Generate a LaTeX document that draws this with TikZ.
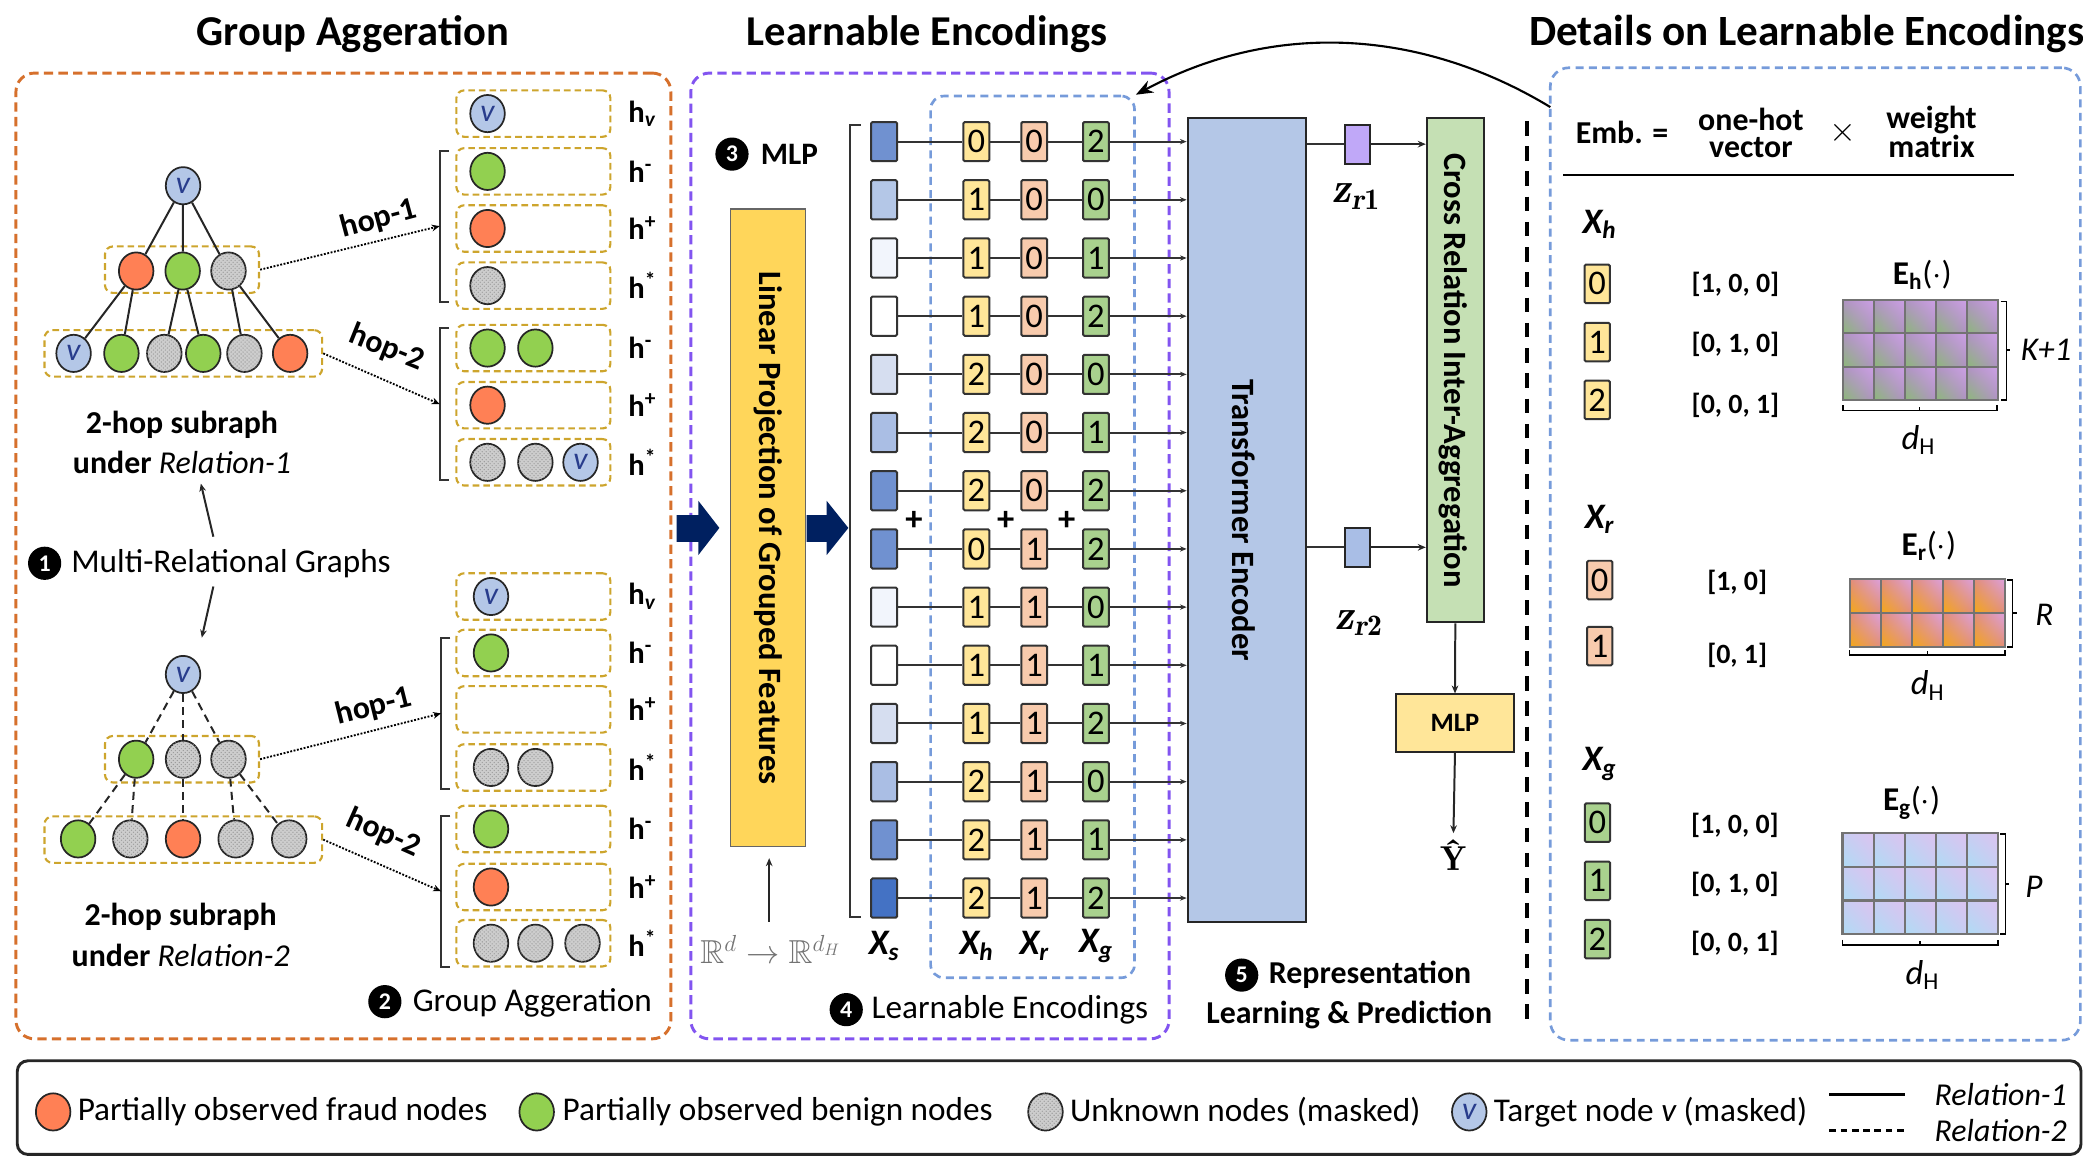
\RequirePackage{fix-cm}
\documentclass[tikz,border=0pt]{standalone}
\usepackage{fontspec}
\setmainfont{Carlito}
\usepackage{amssymb}
\usetikzlibrary{shapes.geometric,arrows.meta,patterns,shadings}
\newcommand\myfs[1]{\fontsize{#1}{#1}\selectfont}
\newcommand\myhv{h\textsubscript{\itshape v}}
\newcommand\myhn{h\textsuperscript{-}}
\newcommand\myhp{h\textsuperscript{+}}
\newcommand\myha{h\textsuperscript{*}}
\newcommand\mylm{\fontfamily{lmr}\selectfont}
\definecolor{orgbox}{RGB}{214,112,44}
\definecolor{purbox}{RGB}{130,84,240}
\definecolor{blubox}{RGB}{118,155,218}
\definecolor{goldc}{RGB}{205,165,45}
\definecolor{frc}{RGB}{255,128,85}
\definecolor{bnc}{RGB}{146,208,80}
\definecolor{ukc}{RGB}{205,205,205}
\definecolor{tvc}{RGB}{180,199,231}
\definecolor{vtext}{RGB}{40,60,140}
\definecolor{navy}{RGB}{0,32,96}
\definecolor{projc}{RGB}{255,214,90}
\definecolor{hc}{RGB}{255,230,153}
\definecolor{rc}{RGB}{248,203,173}
\definecolor{gc}{RGB}{169,209,142}
\definecolor{tfc}{RGB}{180,199,231}
\definecolor{crc}{RGB}{197,224,180}
\definecolor{zac}{RGB}{192,168,248}
\definecolor{zbc}{RGB}{169,190,230}
\definecolor{xsa}{RGB}{112,145,208}
\definecolor{xsb}{RGB}{180,199,231}
\definecolor{xsc}{RGB}{242,245,252}
\definecolor{xsd}{RGB}{255,255,255}
\definecolor{xse}{RGB}{214,222,240}
\definecolor{xsf}{RGB}{170,190,228}
\definecolor{xsg}{RGB}{68,114,196}
\definecolor{mhA}{RGB}{140,185,120}
\definecolor{mhB}{RGB}{205,160,230}
\definecolor{mhC}{RGB}{175,145,195}
\definecolor{mrA}{RGB}{245,170,20}
\definecolor{mrB}{RGB}{220,160,220}
\definecolor{mrC}{RGB}{225,140,120}
\definecolor{mgA}{RGB}{175,220,245}
\definecolor{mgB}{RGB}{220,195,240}
\definecolor{mgC}{RGB}{200,205,242}
\begin{document}
\begin{tikzpicture}[x=1pt,y=-1pt,
 gn/.style={ellipse, draw=black!85, line width=1.3pt, minimum width=26pt, minimum height=28pt, inner sep=0pt, font=\itshape\myfs{24}, text=vtext},
 frn/.style={gn, fill=frc},
 bnn/.style={gn, fill=bnc},
 ukn/.style={gn, fill=ukc, postaction={pattern=crosshatch dots, pattern color=black!40}},
 tvn/.style={gn, fill=tvc},
 gbox/.style={draw=goldc, line width=1.6pt, dash pattern=on 5pt off 3pt, rounded corners=6pt, minimum height=35pt, inner sep=0pt},
 edgeA/.style={line width=1.5pt, draw=black!85},
 edgeB/.style={edgeA, dash pattern=on 6pt off 4pt},
 dotarr/.style={line width=1.4pt, dash pattern=on 1.4pt off 1.2pt, -{Stealth[length=6pt,width=5pt]}},
 brk/.style={line width=1.6pt, draw=black!80},
 hl/.style={anchor=west, font=\bfseries\myfs{23}, inner sep=0pt},
 hopl/.style={font=\bfseries\myfs{24}, inner sep=0.5pt},
 numc/.style={circle, fill=black, text=white, font=\bfseries\myfs{18}, inner sep=0pt, minimum size=25pt},
 cell/.style={draw=black!80, line width=1.5pt, minimum width=19.5pt, minimum height=29.5pt, inner sep=0pt, font=\myfs{26}, rounded corners=1pt},
 ehc/.style={cell, fill=hc},
 erc/.style={cell, fill=rc},
 egc/.style={cell, fill=gc},
 arr/.style={-{Stealth[length=6pt,width=5pt]}, line width=1.5pt, draw=black!85},
 rowl/.style={line width=1.5pt, draw=black!80},
 xl/.style={font=\bfseries\itshape\myfs{27}},
 panel/.style={line width=2.2pt, dash pattern=on 7pt off 4pt, rounded corners=14pt, inner sep=0pt},
 vec/.style={font=\bfseries\myfs{21}},
 mcell/.style={draw=black!55, line width=1.6pt},
 legt/.style={anchor=west, font=\myfs{25}},
 bigbox/.style={draw=black!85, line width=1.5pt, inner sep=0pt}
]
\useasboundingbox (0,0) rectangle (1568,871);

% ---------- titles
\node[anchor=base, font=\bfseries\myfs{32}] (t1) at (265.5,34.5) {Group Aggeration};
\node[anchor=base, font=\bfseries\myfs{32}] (t2) at (698,34.5) {Learnable Encodings};
\node[anchor=base west, inner sep=0pt, font=\bfseries\myfs{32.5}] (t3) at (1151,34.5) {Details on Learnable Encodings};

% ---------- panels
\node[panel, draw=orgbox, minimum width=493pt, minimum height=727pt] (OR) at (258.5,418.5) {};
\node[panel, draw=purbox, minimum width=360pt, minimum height=727pt] (PU) at (700,418.5) {};
\node[panel, draw=blubox, line width=2pt, dash pattern=on 6pt off 4pt, rounded corners=10pt, minimum width=153.5pt, minimum height=663.7pt] (LE) at (777.25,404.15) {};
\node[panel, draw=blubox, line width=2pt, dash pattern=on 6pt off 4pt, rounded corners=14pt, minimum width=399pt, minimum height=732pt] (RB) at (1366.5,417) {};

% ---------- upper graph (Relation-1)
\node[gbox, minimum width=116pt] (ga1) at (137,203) {};
\node[gbox, minimum width=209pt] (ga2) at (138,266) {};
\node[tvn] (ra) at (137.8,139.8) {v};
\node[frn] (a1) at (102.5,204) {};
\node[bnn] (a2) at (137.5,204) {};
\node[ukn] (a3) at (172,204) {};
\node[tvn] (b1) at (55.4,266) {v};
\node[bnn] (b2) at (91.4,266) {};
\node[ukn] (b3) at (123.7,266) {};
\node[bnn] (b4) at (153,266) {};
\node[ukn] (b5) at (184,266) {};
\node[frn] (b6) at (218.4,266) {};
\draw[edgeA] (ra) -- (a1); \draw[edgeA] (ra) -- (a2); \draw[edgeA] (ra) -- (a3);
\draw[edgeA] (a1) -- (b1); \draw[edgeA] (a1) -- (b2);
\draw[edgeA] (a2) -- (b3); \draw[edgeA] (a2) -- (b4);
\draw[edgeA] (a3) -- (b5); \draw[edgeA] (a3) -- (b6);
\node[font=\bfseries\myfs{24}] (s1a) at (137,320) {2-hop subraph};
\node[font=\myfs{24}] (s1b) at (137,348) {{\bfseries under} {\itshape Relation-1}};

% ---------- lower graph (Relation-2)
\node[gbox, minimum width=116pt] (gb1) at (137,571.5) {};
\node[gbox, minimum width=209pt] (gb2) at (138,632) {};
\node[tvn] (rb) at (137.8,507.7) {v};
\node[bnn] (c1) at (102.5,571.5) {};
\node[ukn] (c2) at (137.8,571.5) {};
\node[ukn] (c3) at (172,571.5) {};
\node[bnn] (d1) at (58.8,631.5) {};
\node[ukn] (d2) at (98.1,631.5) {};
\node[frn] (d3) at (137.8,631.5) {};
\node[ukn] (d4) at (177.4,631.5) {};
\node[ukn] (d5) at (217.7,631.5) {};
\draw[edgeB] (rb) -- (c1); \draw[edgeB] (rb) -- (c2); \draw[edgeB] (rb) -- (c3);
\draw[edgeB] (c1) -- (d1); \draw[edgeB] (c1) -- (d2);
\draw[edgeB] (c2) -- (d3);
\draw[edgeB] (c3) -- (d4); \draw[edgeB] (c3) -- (d5);
\node[font=\bfseries\myfs{24}] (s2a) at (136,690) {2-hop subraph};
\node[font=\myfs{24}] (s2b) at (136,719) {{\bfseries under} {\itshape Relation-2}};

% ---------- multi-relational graphs label
\node[numc] (n1) at (33.6,424) {1};
\node[anchor=west, font=\myfs{25}, inner sep=0pt] (mrg) at (53.5,424) {Multi-Relational Graphs};
\coordinate (mu1) at (160.6,404);
\coordinate (mu2) at (151.2,364);
\coordinate (md1) at (160.6,441.5);
\coordinate (md2) at (151.9,480);
\draw[arr] (mu1) -- (mu2);
\draw[arr] (md1) -- (md2);

% ---------- grouped rows
\foreach \yy [count=\i] in {85.5,129,172,215,262,305,348}{\node[gbox,minimum width=116pt] (U\i) at (401.5,\yy) {};}
\foreach \yy [count=\i] in {449,491.5,534,577.7,624,667.7,710}{\node[gbox,minimum width=116pt] (L\i) at (401.5,\yy) {};}
\foreach \i/\lb in {1/\myhv,2/\myhn,3/\myhp,4/\myha,5/\myhn,6/\myhp,7/\myha}{
  \node[hl] (Ul\i) at ([xshift=12.5pt]U\i.east) {\lb};
  \node[hl] (Ll\i) at ([xshift=12.5pt]L\i.east) {\lb};
}
\node[tvn] (u1a) at (367,85.5) {v};
\node[bnn] (u2a) at (367,129) {};
\node[frn] (u3a) at (367,172) {};
\node[ukn] (u4a) at (367,215) {};
\node[bnn] (u5a) at (367,262) {};
\node[bnn] (u5b) at (403,262) {};
\node[frn] (u6a) at (367,305) {};
\node[ukn] (u7a) at (367,348) {};
\node[ukn] (u7b) at (403,348) {};
\node[tvn] (u7c) at (437,348) {v};

\node[tvn] (l1a) at (369.6,449) {v};
\node[bnn] (l2a) at (369.6,491.5) {};
\node[ukn] (l4a) at (369.6,577.7) {};
\node[ukn] (l4b) at (403,577.7) {};
\node[bnn] (l5a) at (369.6,624) {};
\node[frn] (l6a) at (369.6,667.7) {};
\node[ukn] (l7a) at (369.6,710) {};
\node[ukn] (l7b) at (403,710) {};
\node[ukn] (l7c) at (438.5,710) {};

% brackets
\draw[brk] (338,113.4) -- (331,113.4) -- (331,227) -- (338,227);
\draw[brk] (338,246.8) -- (331,246.8) -- (331,361.6) -- (338,361.6);
\draw[brk] (339,480) -- (332,480) -- (332,594) -- (339,594);
\draw[brk] (339,614) -- (332,614) -- (332,727.8) -- (339,727.8);
\coordinate (bu1) at (331,170.2);
\coordinate (bu2) at (331,304.2);
\coordinate (bl1) at (332,537);
\coordinate (bl2) at (332,670.9);
\draw[dotarr] (ga1.east) -- (bu1);
\draw[dotarr] (ga2.east) -- (bu2);
\draw[dotarr] (gb1.east) -- (bl1);
\draw[dotarr] (gb2.east) -- (bl2);
\node[hopl, rotate=15] (h1a) at (285,165) {hop-1};
\node[hopl, rotate=-22] (h2a) at (291,262) {hop-2};
\node[hopl, rotate=14] (h1b) at (281.5,532) {hop-1};
\node[hopl, rotate=-24] (h2b) at (288.5,627) {hop-2};

\node[numc] (n2) at (289.7,754) {2};
\node[anchor=west, font=\myfs{25}, inner sep=0pt] (ga) at (310.5,755) {Group Aggeration};

% ---------- middle panel
\fill[navy] (509.4,387.7) -- (525.7,387.7) -- (525.7,377) -- (541.5,397.4) -- (525.7,417.8) -- (525.7,407.8) -- (509.4,407.8) -- cycle;
\node[draw=black!60, line width=1pt, fill=projc, minimum width=56.5pt, minimum height=480pt, inner sep=0pt] (P) at (578.25,397.4) {};
\node[rotate=-90, font=\bfseries\myfs{24.5}] (Pt) at (P.center) {Linear Projection of Grouped Features};
\fill[navy] (607.2,387.7) -- (622.3,387.7) -- (622.3,377) -- (638.6,397.4) -- (622.3,417.8) -- (622.3,407.8) -- (607.2,407.8) -- cycle;
\node[numc] (n3) at (551,116) {3};
\node[anchor=west, font=\bfseries\myfs{23.5}, inner sep=0pt] (mlpl) at (572.5,116) {MLP};
\node[text=black!55, font=\myfs{25}] (RR) at (580,715) {$\mathbb{R}^{d}\rightarrow\mathbb{R}^{d_H}$};
\coordinate (ru1) at (579,694);
\coordinate (ru2) at (579,646);
\draw[arr] (ru1) -- (ru2);

\draw[brk] (648,94) -- (640,94) -- (640,690) -- (648,690);

\node[bigbox, fill=tfc, minimum width=89pt, minimum height=605pt] (T) at (938.5,391.5) {};
\node[rotate=-90, font=\bfseries\myfs{24.5}] (Tt) at (936,391.5) {Transformer Encoder};

\foreach \c/\h/\r/\g [count=\k] in {xsa/0/0/2, xsb/1/0/0, xsc/1/0/1, xsd/1/0/2, xse/2/0/0, xsf/2/0/1, xsa/2/0/2, xsa/0/1/2, xsc/1/1/0, xsd/1/1/1, xse/1/1/2, xsf/2/1/0, xsa/2/1/1, xsg/2/1/2}{
  \pgfmathsetmacro\yy{106.6+(\k-1)*43.8}
  \node[cell, fill=\c] (s\k) at (665.5,\yy) {};
  \node[ehc] (h\k) at (735,\yy) {\h};
  \node[erc] (r\k) at (778.5,\yy) {\r};
  \node[egc] (g\k) at (825,\yy) {\g};
  \draw[rowl] (s\k) -- (h\k);
  \draw[rowl] (h\k) -- (r\k);
  \draw[rowl] (r\k) -- (g\k);
  \draw[rowl, -{Stealth[length=5pt,width=4pt]}] (g\k) -- (g\k -| T.west);
}
\node[font=\bfseries\myfs{26}] (p1) at (688,392) {+};
\node[font=\bfseries\myfs{26}] (p2) at (757,392) {+};
\node[font=\bfseries\myfs{26}] (p3) at (803,392) {+};
\node[xl] (xsl) at (665.5,712) {X\textsubscript{s}};
\node[xl] (xhl) at (735,712) {X\textsubscript{h}};
\node[xl] (xrl) at (778.5,712) {X\textsubscript{r}};
\node[xl] (xgl) at (825,712) {X\textsubscript{g}};
\node[numc] (n4) at (637,760) {4};
\node[anchor=west, font=\myfs{25}, inner sep=0pt] (lel) at (656,760) {Learnable Encodings};

% ---------- representation learning
\node[bigbox, fill=crc, minimum width=43pt, minimum height=379.5pt] (C) at (1095.5,278.75) {};
\node[rotate=-90, font=\bfseries\myfs{24.5}] (Ct) at (1094,279) {Cross Relation Inter-Aggregation};
\node[bigbox, fill=zac, minimum width=19pt, minimum height=29.5pt] (z1) at (1022,108.5) {};
\node[bigbox, fill=zbc, minimum width=19pt, minimum height=29.5pt] (z2) at (1022,412) {};
\draw[rowl] (T.east |- z1) -- (z1);
\draw[arr] (z1) -- (z1 -| C.west);
\draw[rowl] (T.east |- z2) -- (z2);
\draw[arr] (z2) -- (z2 -| C.west);
\node[font=\mylm\bfseries\itshape\myfs{32}] (z1l) at (1021,148) {z\textsubscript{r\upshape 1}};
\node[font=\mylm\bfseries\itshape\myfs{32}] (z2l) at (1023,469) {z\textsubscript{r\upshape 2}};
\node[bigbox, fill=hc, minimum width=88.5pt, minimum height=43pt, font=\bfseries\myfs{20}] (M) at (1095.25,544.25) {MLP};
\node[inner sep=1pt, font=\mylm\bfseries\myfs{26}] (Y) at (1094,644) {\^{Y}};
\draw[arr] (C.south) -- (M.north);
\draw[arr, shorten >=4pt] (M.south) -- (Y.north);
\node[numc] (n5) at (934.7,734) {5};
\node[anchor=west, font=\bfseries\myfs{24}, inner sep=0pt] (rep1) at (955,734) {Representation};
\node[font=\bfseries\myfs{24}] (rep2) at (1015.6,764) {Learning \& Prediction};
\draw[line width=2.5pt, dash pattern=on 11pt off 8pt] (1149.5,91) -- (1149.5,775);

% ---------- curved arrow
\coordinate (cst) at (1167,80.6);
\draw[line width=1.6pt, -{Stealth[length=13pt,width=10pt]}] (cst) .. controls (1070,22) and (960,15) .. (LE.north east);

% ---------- details panel
\node[font=\bfseries\myfs{24}] (emb) at (1221,99.5) {Emb. =};
\node[font=\bfseries\fontsize{24}{20}\selectfont, align=center] (oh) at (1318,100) {one-hot\\vector};
\node[font=\myfs{26}] (tim) at (1387.5,100) {$\times$};
\node[font=\bfseries\fontsize{24}{20}\selectfont, align=center] (wm) at (1454,99) {weight\\matrix};
\draw[line width=1.8pt] (1176.6,131.7) -- (1515.8,131.7);

\node[xl] (rxh) at (1204,169) {X\textsubscript{h}};
\node[ehc, minimum width=19pt, minimum height=29pt] (e0) at (1202.3,213.7) {0};
\node[ehc, minimum width=19pt, minimum height=29pt] (e1) at (1202.3,257.5) {1};
\node[ehc, minimum width=19pt, minimum height=29pt] (e2) at (1202.3,301) {2};
\node[vec] (v0) at (1306.4,213.7) {[1, 0, 0]};
\node[vec] (v1) at (1306.4,259.4) {[0, 1, 0]};
\node[vec] (v2) at (1306.4,305) {[0, 0, 1]};
\node[font=\myfs{25}] (Eh) at (1447,207) {{\bfseries E}\textsubscript{\bfseries h}($\cdot$)};
\foreach \i in {0,...,4}{\foreach \j in {0,1,2}{
  \shade[lower left=mhA, upper right=mhB, upper left=mhC, lower right=mhC] ({1387.4+\i*23.26},{225.8+\j*25.07}) rectangle ++(23.26,25.07);
  \draw[mcell] ({1387.4+\i*23.26},{225.8+\j*25.07}) rectangle ++(23.26,25.07);
}}
\draw[line width=1.3pt] (1506,227) -- (1510.4,227) -- (1510.4,301) -- (1506,301);
\draw[line width=1.3pt] (1510.4,263.4) -- (1513,263.4);
\node[anchor=west, font=\itshape\myfs{25}, inner sep=0pt] (K) at (1521,263.4) {K+1};
\draw[line width=1.3pt] (1387.4,305) -- (1387.4,309) -- (1503,309) -- (1503,305);
\draw[line width=1.3pt] (1445,309) -- (1445,306);
\node[font=\myfs{26}] (dh1) at (1444,331) {{\itshape d}\textsubscript{H}};

\node[xl] (rxr) at (1204,391) {X\textsubscript{r}};
\node[erc, minimum width=19pt, minimum height=29pt] (f0) at (1204.2,436.6) {0};
\node[erc, minimum width=19pt, minimum height=29pt] (f1) at (1204.2,486.3) {1};
\node[vec] (w0) at (1307.7,438.6) {[1, 0]};
\node[vec] (w1) at (1307.7,493) {[0, 1]};
\node[font=\myfs{25}] (Er) at (1452,411) {{\bfseries E}\textsubscript{\bfseries r}($\cdot$)};
\foreach \i in {0,...,4}{\foreach \j in {0,1}{
  \shade[lower left=mrA, upper right=mrB, upper left=mrC, lower right=mrC] ({1392.3+\i*23.34},{436.1+\j*25.6}) rectangle ++(23.34,25.6);
  \draw[mcell] ({1392.3+\i*23.34},{436.1+\j*25.6}) rectangle ++(23.34,25.6);
}}
\draw[line width=1.3pt] (1511,436.5) -- (1515,436.5) -- (1515,487) -- (1511,487);
\draw[line width=1.3pt] (1515,461.7) -- (1518,461.7);
\node[font=\itshape\myfs{25}] (Rl) at (1539,463) {R};
\draw[line width=1.3pt] (1392.3,489.5) -- (1392.3,493) -- (1509,493) -- (1509,489.5);
\draw[line width=1.3pt] (1451,493) -- (1451,490);
\node[font=\myfs{26}] (dh2) at (1451,516) {{\itshape d}\textsubscript{H}};

\node[xl] (rxg) at (1204,575) {X\textsubscript{g}};
\node[egc, minimum width=19pt, minimum height=29pt] (q0) at (1202.5,619.3) {0};
\node[egc, minimum width=19pt, minimum height=29pt] (q1) at (1202.5,663) {1};
\node[egc, minimum width=19pt, minimum height=29pt] (q2) at (1202.5,706.9) {2};
\node[vec] (x0) at (1306,621) {[1, 0, 0]};
\node[vec] (x1) at (1306,666) {[0, 1, 0]};
\node[vec] (x2) at (1306,710) {[0, 0, 1]};
\node[font=\myfs{25}] (Eg) at (1439,604) {{\bfseries E}\textsubscript{\bfseries g}($\cdot$)};
\foreach \i in {0,...,4}{\foreach \j in {0,1,2}{
  \shade[lower left=mgA, upper right=mgB, upper left=mgC, lower right=mgC] ({1386.9+\i*23.46},{627.3+\j*25.27}) rectangle ++(23.46,25.27);
  \draw[mcell] ({1386.9+\i*23.46},{627.3+\j*25.27}) rectangle ++(23.46,25.27);
}}
\draw[line width=1.3pt] (1505.5,628) -- (1509.6,628) -- (1509.6,703) -- (1505.5,703);
\draw[line width=1.3pt] (1509.6,665.5) -- (1512.5,665.5);
\node[font=\itshape\myfs{25}] (Pl) at (1531,667.5) {P};
\draw[line width=1.3pt] (1386.9,707.5) -- (1386.9,711.4) -- (1504.2,711.4) -- (1504.2,707.5);
\draw[line width=1.3pt] (1445.5,711.4) -- (1445.5,708.5);
\node[font=\myfs{26}] (dh3) at (1447,734) {{\itshape d}\textsubscript{H}};

% ---------- legend
\node[draw=black!85, line width=2.2pt, rounded corners=8pt, minimum width=1553.5pt, minimum height=70.5pt, inner sep=0pt] (LG) at (789.75,833.75) {};
\node[frn] (lg1) at (40,837) {};
\node[legt] (lt1) at (55,837) {Partially observed fraud nodes};
\node[bnn] (lg2) at (404,837) {};
\node[legt] (lt2) at (420,837) {Partially observed benign nodes};
\node[ukn] (lg3) at (787,837) {};
\node[legt] (lt3) at (802,837) {Unknown nodes (masked)};
\node[tvn] (lg4) at (1106,837) {v};
\node[legt] (lt4) at (1121,837) {Target node {\itshape v} (masked)};
\coordinate (la1) at (1377,824);
\coordinate (la2) at (1434,824);
\coordinate (lb1) at (1377,851);
\coordinate (lb2) at (1434,851);
\draw[line width=1.8pt] (la1) -- (la2);
\draw[line width=1.8pt, dash pattern=on 5pt off 3.5pt] (lb1) -- (lb2);
\node[anchor=east, font=\itshape\myfs{24}, inner sep=0pt] (lr1) at (1556,824) {Relation-1};
\node[anchor=east, font=\itshape\myfs{24}, inner sep=0pt] (lr2) at (1556,851) {Relation-2};
\end{tikzpicture}
\end{document}
